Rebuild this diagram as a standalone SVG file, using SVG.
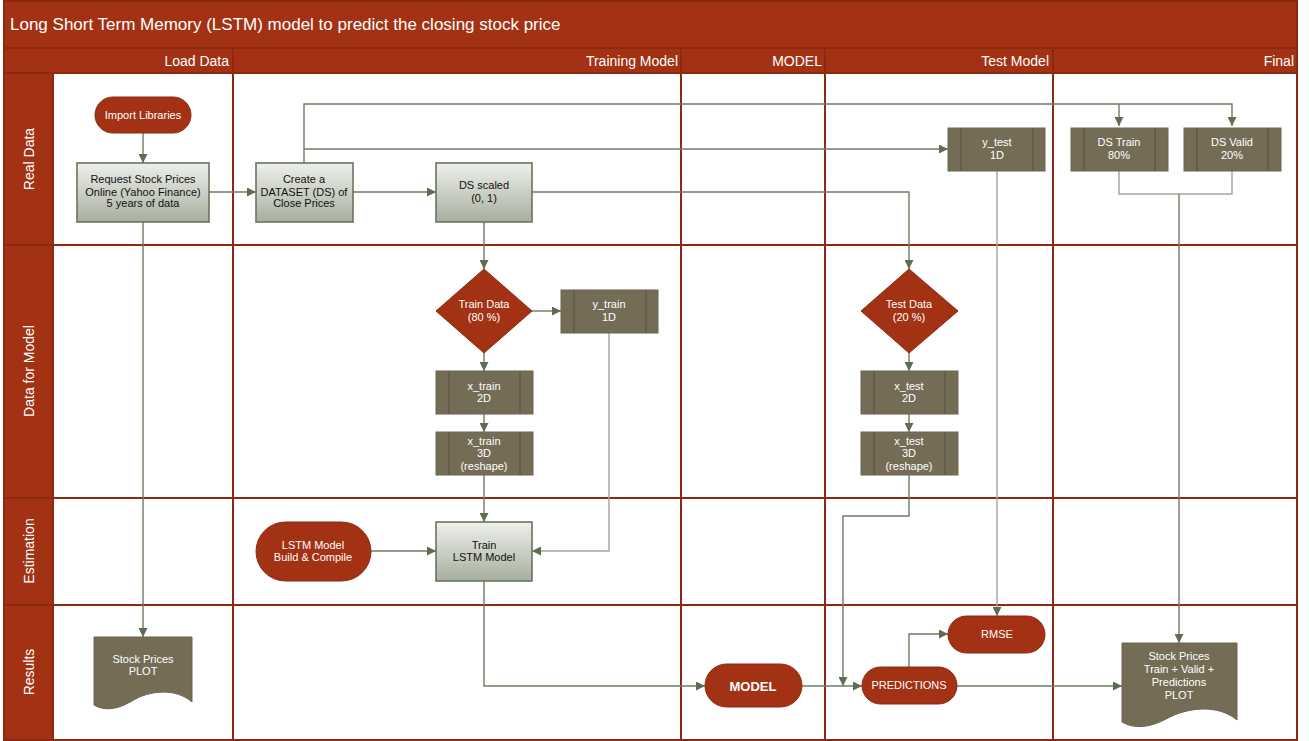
<svg xmlns="http://www.w3.org/2000/svg" width="1309" height="741" viewBox="0 0 1309 741">
  <defs>
    <linearGradient id="procFill" x1="0" y1="0" x2="0" y2="1">
      <stop offset="0" stop-color="#EEF0EC"/>
      <stop offset="1" stop-color="#A7AF9D"/>
    </linearGradient>
    <marker id="arr" viewBox="0 0 10 10" refX="10" refY="5" markerWidth="10" markerHeight="9" markerUnits="userSpaceOnUse" orient="auto">
      <path d="M0,0 L10,5 L0,10 z" fill="#5E6C52"/>
    </marker>
    <style>
      .lane { fill: #A33114; }
      .grid { stroke: #8A2A12; stroke-width: 2; fill: none; }
      .hdr { fill: #FFFFFF; font-family: "Liberation Sans", Arial, sans-serif; font-size: 14px; font-weight: 300; }
      .title { fill: #FFFFFF; font-family: "Liberation Sans", Arial, sans-serif; font-size: 17px; }
      .proc { fill: url(#procFill); stroke: #6A7460; stroke-width: 1.6; }
      .data { fill: #756C56; stroke: #6B6450; stroke-width: 1; }
      .inner { stroke: #5C5543; stroke-width: 1.2; }
      .term { fill: #A33114; stroke: #8E2A10; stroke-width: 1; }
      .dec { fill: #A33114; stroke: #8E2A10; stroke-width: 1; }
      .doc { fill: #756C56; stroke: #6B6450; stroke-width: 1; }
      .tb { fill: #111111; font-family: "Liberation Sans Narrow", "Liberation Sans", Arial, sans-serif; font-size: 11px; text-anchor: middle; }
      .tw { fill: #FFFFFF; font-family: "Liberation Sans Narrow", "Liberation Sans", Arial, sans-serif; font-size: 11px; text-anchor: middle; }
      .big { font-size: 13px; font-weight: bold; }
      .conn { fill: none; stroke: #6E7C62; stroke-width: 1.4; }
      .connl { fill: none; stroke: #A3A698; stroke-width: 1.4; }
    </style>
  </defs>

  <!-- swimlane frame -->
  <g id="frame">
    <rect x="4" y="1" width="1293" height="739" fill="#FFFFFF"/>
    <rect class="lane" x="4" y="1" width="1293" height="72"/>
    <rect class="lane" x="4" y="73" width="49" height="667"/>
    <line class="grid" x1="4" y1="48" x2="1297" y2="48"/>
    <line class="grid" x1="4" y1="73" x2="1297" y2="73"/>
    <line class="grid" x1="4" y1="245" x2="1297" y2="245"/>
    <line class="grid" x1="4" y1="498" x2="1297" y2="498"/>
    <line class="grid" x1="4" y1="605" x2="1297" y2="605"/>
    <line class="grid" x1="53" y1="73" x2="53" y2="740"/>
    <line class="grid" x1="233" y1="48" x2="233" y2="740"/>
    <line class="grid" x1="681" y1="48" x2="681" y2="740"/>
    <line class="grid" x1="825" y1="48" x2="825" y2="740"/>
    <line class="grid" x1="1053" y1="48" x2="1053" y2="740"/>
    <rect class="grid" x="4" y="1" width="1293" height="739"/>
    <text class="title" x="10" y="30">Long Short Term Memory (LSTM) model to predict the closing stock price</text>
    <text class="hdr" x="229" y="66" text-anchor="end">Load Data</text>
    <text class="hdr" x="678" y="66" text-anchor="end">Training Model</text>
    <text class="hdr" x="822" y="66" text-anchor="end">MODEL</text>
    <text class="hdr" x="1049" y="66" text-anchor="end">Test Model</text>
    <text class="hdr" x="1294" y="66" text-anchor="end">Final</text>
    <text class="hdr" transform="translate(34,159) rotate(-90)" text-anchor="middle">Real Data</text>
    <text class="hdr" transform="translate(34,371) rotate(-90)" text-anchor="middle">Data for Model</text>
    <text class="hdr" transform="translate(34,551) rotate(-90)" text-anchor="middle">Estimation</text>
    <text class="hdr" transform="translate(34,672) rotate(-90)" text-anchor="middle">Results</text>
  </g>

  <!-- connectors -->
  <g id="connectors">
    <path class="conn" d="M143,133 V163" marker-end="url(#arr)"/>
    <path class="conn" d="M209,192 H256" marker-end="url(#arr)"/>
    <path class="conn" d="M353,192 H436" marker-end="url(#arr)"/>
    <path class="conn" d="M304,163 V104 H1232 V126" marker-end="url(#arr)"/>
    <path class="conn" d="M1119,104 V126" marker-end="url(#arr)"/>
    <path class="conn" d="M304,149 H948" marker-end="url(#arr)"/>
    <path class="conn" d="M532,192 H909 V269" marker-end="url(#arr)"/>
    <path class="conn" d="M484,222 V269" marker-end="url(#arr)"/>
    <path class="conn" d="M532,311 H561" marker-end="url(#arr)"/>
    <path class="conn" d="M484,353 V371" marker-end="url(#arr)"/>
    <path class="conn" d="M484,414 V432" marker-end="url(#arr)"/>
    <path class="conn" d="M484,475 V522" marker-end="url(#arr)"/>
    <path class="conn" d="M909,353 V371" marker-end="url(#arr)"/>
    <path class="conn" d="M909,414 V432" marker-end="url(#arr)"/>
    <path class="connl" d="M609,333 V551 H532" marker-end="url(#arr)"/>
    <path class="conn" d="M371,551 H436" marker-end="url(#arr)"/>
    <path class="conn" d="M484,581 V686 H705" marker-end="url(#arr)"/>
    <path class="conn" d="M909,475 V516 H843 V686" marker-end="url(#arr)"/>
    <path class="conn" d="M802,686 H862" marker-end="url(#arr)"/>
    <path class="conn" d="M909,667 V634 H948" marker-end="url(#arr)"/>
    <path class="connl" d="M997,171 V616" marker-end="url(#arr)"/>
    <path class="connl" d="M1119,171 V194 H1232 V171"/>
    <path class="conn" d="M1179,194 V643" marker-end="url(#arr)"/>
    <path class="conn" d="M957,686 H1122" marker-end="url(#arr)"/>
    <path class="conn" d="M143,222 V637" marker-end="url(#arr)"/>
  </g>

  <!-- Load Data -->
  <g id="import-libraries">
    <rect class="term" x="95" y="97" width="96" height="36" rx="18"/>
    <text class="tw" x="143" y="119">Import Libraries</text>
  </g>
  <g id="request-prices">
    <rect class="proc" x="77" y="163" width="132" height="59"/>
    <text class="tb" x="143" y="183">Request Stock Prices</text>
    <text class="tb" x="143" y="196">Online (Yahoo Finance)</text>
    <text class="tb" x="143" y="207">5 years of data</text>
  </g>
  <g id="plot-prices">
    <path class="doc" d="M94,637 H192 V702 C176,688 150,690 132,701 C117,710 104,711 94,705 Z"/>
    <text class="tw" x="143" y="663">Stock Prices</text>
    <text class="tw" x="143" y="675">PLOT</text>
  </g>

  <!-- Training Model -->
  <g id="create-dataset">
    <rect class="proc" x="256" y="163" width="97" height="59"/>
    <text class="tb" x="304" y="183">Create a</text>
    <text class="tb" x="304" y="196">DATASET (DS) of</text>
    <text class="tb" x="304" y="207">Close Prices</text>
  </g>
  <g id="ds-scaled">
    <rect class="proc" x="436" y="163" width="96" height="59"/>
    <text class="tb" x="484" y="189">DS scaled</text>
    <text class="tb" x="484" y="202">(0, 1)</text>
  </g>
  <g id="train-data">
    <polygon class="dec" points="484,269 532,311 484,353 436,311"/>
    <text class="tw" x="484" y="308">Train Data</text>
    <text class="tw" x="484" y="321">(80 %)</text>
  </g>
  <g id="y-train">
    <rect class="data" x="561" y="290" width="97" height="43"/>
    <line class="inner" x1="574" y1="290" x2="574" y2="333"/>
    <line class="inner" x1="646" y1="290" x2="646" y2="333"/>
    <text class="tw" x="609" y="308">y_train</text>
    <text class="tw" x="609" y="321">1D</text>
  </g>
  <g id="x-train-2d">
    <rect class="data" x="436" y="371" width="97" height="43"/>
    <line class="inner" x1="449" y1="371" x2="449" y2="414"/>
    <line class="inner" x1="520" y1="371" x2="520" y2="414"/>
    <text class="tw" x="484" y="390">x_train</text>
    <text class="tw" x="484" y="402">2D</text>
  </g>
  <g id="x-train-3d">
    <rect class="data" x="436" y="432" width="97" height="43"/>
    <line class="inner" x1="449" y1="432" x2="449" y2="475"/>
    <line class="inner" x1="520" y1="432" x2="520" y2="475"/>
    <text class="tw" x="484" y="445">x_train</text>
    <text class="tw" x="484" y="457">3D</text>
    <text class="tw" x="484" y="470">(reshape)</text>
  </g>
  <g id="lstm-build">
    <rect class="term" x="256" y="522" width="115" height="59" rx="29.5"/>
    <text class="tw" x="313" y="549">LSTM Model</text>
    <text class="tw" x="313" y="561">Build &amp;  Compile</text>
  </g>
  <g id="train-lstm">
    <rect class="proc" x="436" y="522" width="96" height="59"/>
    <text class="tb" x="484" y="549">Train</text>
    <text class="tb" x="484" y="561">LSTM Model</text>
  </g>

  <!-- MODEL -->
  <g id="model">
    <rect class="term" x="705" y="664" width="97" height="43" rx="21.5"/>
    <text class="tw big" x="753" y="691">MODEL</text>
  </g>

  <!-- Test Model -->
  <g id="y-test">
    <rect class="data" x="948" y="128" width="97" height="43"/>
    <line class="inner" x1="961" y1="128" x2="961" y2="171"/>
    <line class="inner" x1="1033" y1="128" x2="1033" y2="171"/>
    <text class="tw" x="997" y="146">y_test</text>
    <text class="tw" x="997" y="159">1D</text>
  </g>
  <g id="test-data">
    <polygon class="dec" points="909,269 958,311 909,353 861,311"/>
    <text class="tw" x="909" y="308">Test Data</text>
    <text class="tw" x="909" y="321">(20 %)</text>
  </g>
  <g id="x-test-2d">
    <rect class="data" x="861" y="371" width="97" height="43"/>
    <line class="inner" x1="874" y1="371" x2="874" y2="414"/>
    <line class="inner" x1="945" y1="371" x2="945" y2="414"/>
    <text class="tw" x="909" y="390">x_test</text>
    <text class="tw" x="909" y="402">2D</text>
  </g>
  <g id="x-test-3d">
    <rect class="data" x="861" y="432" width="97" height="43"/>
    <line class="inner" x1="874" y1="432" x2="874" y2="475"/>
    <line class="inner" x1="945" y1="432" x2="945" y2="475"/>
    <text class="tw" x="909" y="445">x_test</text>
    <text class="tw" x="909" y="457">3D</text>
    <text class="tw" x="909" y="470">(reshape)</text>
  </g>
  <g id="rmse">
    <rect class="term" x="948" y="616" width="97" height="37" rx="18.5"/>
    <text class="tw" x="997" y="638">RMSE</text>
  </g>
  <g id="predictions">
    <rect class="term" x="862" y="667" width="95" height="37" rx="18.5"/>
    <text class="tw" x="909" y="689">PREDICTIONS</text>
  </g>

  <!-- Final -->
  <g id="ds-train">
    <rect class="data" x="1071" y="128" width="97" height="43"/>
    <line class="inner" x1="1084" y1="128" x2="1084" y2="171"/>
    <line class="inner" x1="1155" y1="128" x2="1155" y2="171"/>
    <text class="tw" x="1119" y="146">DS Train</text>
    <text class="tw" x="1119" y="159">80%</text>
  </g>
  <g id="ds-valid">
    <rect class="data" x="1184" y="128" width="97" height="43"/>
    <line class="inner" x1="1197" y1="128" x2="1197" y2="171"/>
    <line class="inner" x1="1268" y1="128" x2="1268" y2="171"/>
    <text class="tw" x="1232" y="146">DS Valid</text>
    <text class="tw" x="1232" y="159">20%</text>
  </g>
  <g id="plot-final">
    <path class="doc" d="M1122,643 H1237 V720 C1218,704 1188,707 1166,719 C1149,728 1134,729 1122,722 Z"/>
    <text class="tw" x="1179" y="660">Stock Prices</text>
    <text class="tw" x="1179" y="673">Train + Valid +</text>
    <text class="tw" x="1179" y="686">Predictions</text>
    <text class="tw" x="1179" y="699">PLOT</text>
  </g>
</svg>
